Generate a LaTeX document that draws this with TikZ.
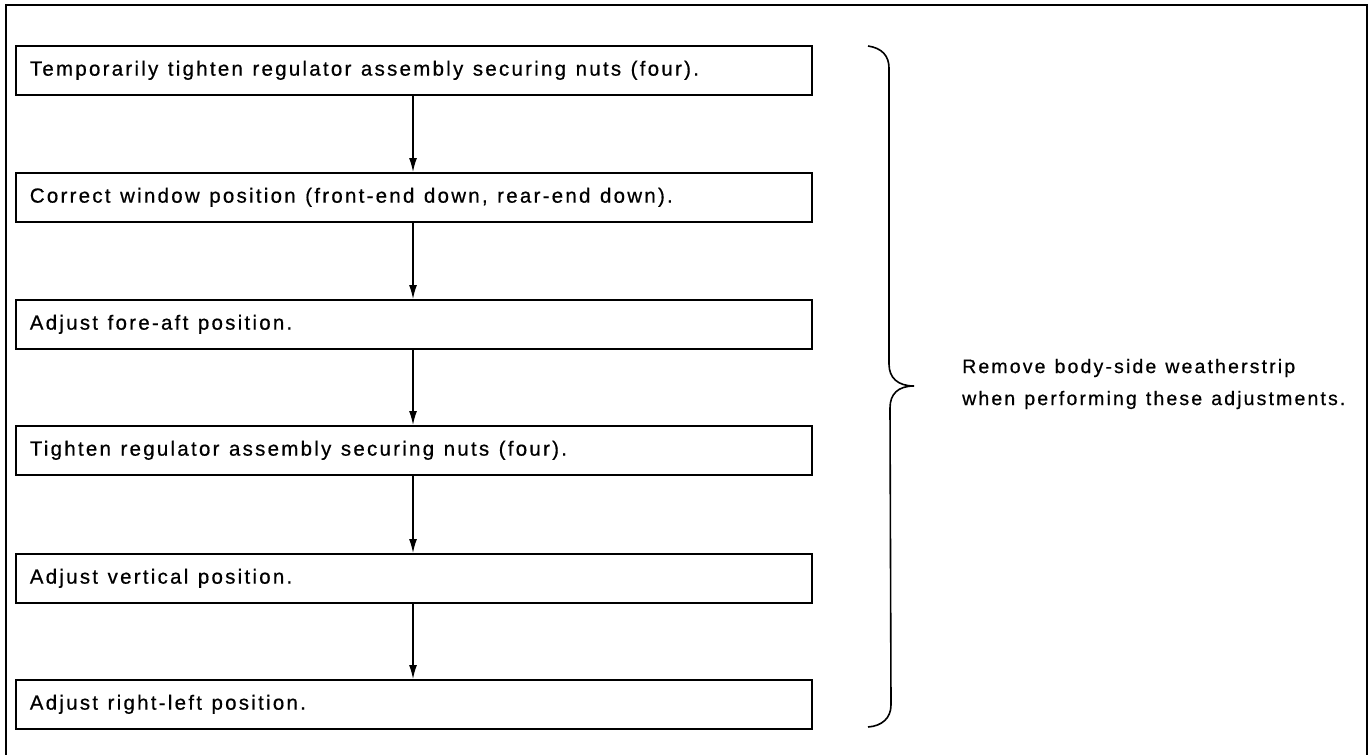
\documentclass[tikz,border=0pt]{standalone}
\usepackage{fontspec}
\setmainfont{Liberation Sans}[LetterSpace=11, WordSpace=1.2, FakeBold=0.6]
\usetikzlibrary{arrows.meta}
\newcommand{\boxtext}[1]{\makebox[768pt][l]{#1}}
\tikzset{
  stepbox/.style={draw, line width=1.7pt, rectangle, anchor=north west,
    minimum height=49pt, minimum width=796pt, inner xsep=14pt, inner ysep=0pt,
    font=\fontsize{20.5}{24}\selectfont},
  flow/.style={line width=1.3pt, -{Latex[length=14pt,width=8pt]}},
  frame/.style={line width=1.6pt},
  bracelines/.style={line width=1.6pt},
}
\begin{document}
\begin{tikzpicture}[x=1pt,y=-1pt]
\useasboundingbox (0,0) rectangle (1371,755);
\draw[frame] (6,755) -- (6,5) -- (1367,5) -- (1367,755);
\node[stepbox] (s1) at (15,45)  {\boxtext{Temporarily tighten regulator assembly securing nuts (four).}};
\node[stepbox] (s2) at (15,172) {\boxtext{Correct window position (front-end down, rear-end down).}};
\node[stepbox] (s3) at (15,299) {\boxtext{Adjust fore-aft position.}};
\node[stepbox] (s4) at (15,425) {\boxtext{Tighten regulator assembly securing nuts (four).}};
\node[stepbox] (s5) at (15,553) {\boxtext{Adjust vertical position.}};
\node[stepbox] (s6) at (15,679) {\boxtext{Adjust right-left position.}};
\foreach \a/\b in {s1/s2,s2/s3,s3/s4,s4/s5,s5/s6}{
  \draw[flow] (\a.south west -| 413,0) -- (\b.north west -| 413,0);
}
\coordinate (btop) at (868,46);
\coordinate (btip) at (914,386);
\coordinate (bbot) at (868,727);
\draw[bracelines] (btop) .. controls (882,48) and (889,56) .. (889,68)
  -- (889,364) .. controls (889,378) and (898,386) .. (btip)
  .. controls (898,386) and (890,394) .. (890,408)
  -- (891,705) .. controls (891,718) and (882,726) .. (bbot);
\node[anchor=west, align=left, inner sep=0pt, font=\fontsize{19.5}{32}\selectfont] (note) at (962,384)
  {Remove body-side weatherstrip\\when performing these adjustments.};
\end{tikzpicture}
\end{document}
